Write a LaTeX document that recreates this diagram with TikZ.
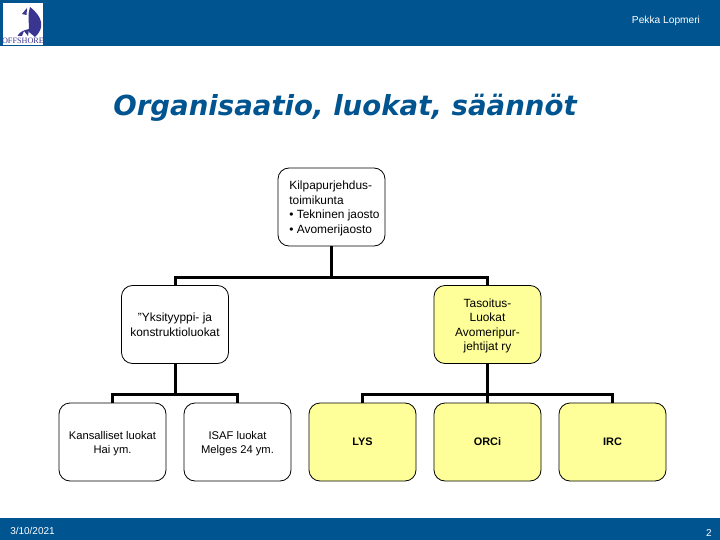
\documentclass[tikz,border=0pt]{standalone}
\usepackage{fontspec}
\setmainfont{Liberation Sans}
\newfontfamily\titlefont{DejaVu Sans}
\newfontfamily\logofont{Liberation Serif}
\definecolor{barblue}{HTML}{00548F}
\definecolor{sailblue}{HTML}{3A3591}
\definecolor{boxyellow}{HTML}{FFFF99}
\begin{document}
\begin{tikzpicture}[x=1pt,y=-1pt,
	box/.style={draw=black,line width=0.8pt,rounded corners=11pt,minimum width=107pt,minimum height=78pt,inner sep=0pt,align=center,font=\fontsize{11.9}{14.5}\selectfont},
	smallbox/.style={box,font=\fontsize{11.2}{14}\selectfont},
	yellowbox/.style={box,fill=boxyellow},
	boldbox/.style={yellowbox,font=\bfseries\fontsize{10.9}{14}\selectfont},
	wire/.style={draw=black,line width=3pt},
	bartext/.style={text=white,inner sep=0pt}]
	\useasboundingbox (0,0) rectangle (720,540);
	% bars
	\fill [barblue] (0,0) rectangle (720,46.5);
	\fill [barblue] (0,518) rectangle (720,540);
	% logo
	\fill [white] (3,3) rectangle (43,45);
	\fill [sailblue] (30,7) .. controls (43,17) and (45,28) .. (35,37) -- (29,32) -- (28.5,14) -- cycle;
	\fill [sailblue] (22,14) -- (27,8) -- (26.5,15) -- cycle;
	\fill [sailblue] (17.5,36) .. controls (20,31) and (25,30) .. (29,29) -- (28,36) -- (24,31) -- (22,36) -- cycle;
	\node (logotext) at (23,40.5) [text=sailblue,inner sep=0pt,font=\logofont\fontsize{8.2}{8}\selectfont] {OFFSHORE};
	\node (author) at (666,20.5) [bartext,font=\fontsize{10.2}{11}\selectfont] {Pekka Lopmeri};
	\node (date) at (32.5,531) [bartext,font=\fontsize{10}{11}\selectfont] {3/10/2021};
	\node (page) at (709,533) [bartext,font=\fontsize{10}{11}\selectfont] {2};
	\node (title) at (345,108) [text=barblue,inner sep=0pt,font=\titlefont\bfseries\itshape\fontsize{27.6}{30}\selectfont] {Organisaatio, luokat, säännöt};
	% boxes
	\node [box] (kilpa) at (331.5,207) {\begin{tabular}{@{\hspace{6pt}}l@{}}\rule{0pt}{13pt}Kilpapurjehdus-\\toimikunta\\• Tekninen jaosto\\• Avomerijaosto\end{tabular}};
	\node [box] (yksi) at (175,324.5) {"Yksityyppi- ja\\konstruktioluokat};
	\node [yellowbox] (tasoitus) at (487.5,324.5) {\rule{0pt}{11.5pt}Tasoitus-\\Luokat\\Avomeripur-\\jehtijat ry};
	\node [smallbox] (kansa) at (112.5,442) {\rule{0pt}{11pt}Kansalliset luokat\\Hai ym.};
	\node [smallbox] (isaf) at (237.5,442) {\rule{0pt}{11pt}ISAF luokat\\Melges 24 ym.};
	\node [boldbox] (lys) at (362.5,442) {LYS};
	\node [boldbox] (orc) at (487.5,442) {ORCi};
	\node [boldbox] (irc) at (612.5,442) {IRC};
	% connectors
	\coordinate (busa) at (331.5,277);
	\coordinate (busb) at (175,394);
	\coordinate (busc) at (487.5,394);
	\draw [wire] (kilpa.south) -- (busa);
	\draw [wire] (yksi.north) |- (busa) -| (tasoitus.north);
	\draw [wire] (yksi.south) -- (busb);
	\draw [wire] (kansa.north) |- (busb) -| (isaf.north);
	\draw [wire] (tasoitus.south) -- (orc.north);
	\draw [wire] (lys.north) |- (busc) -| (irc.north);
\end{tikzpicture}
\end{document}
